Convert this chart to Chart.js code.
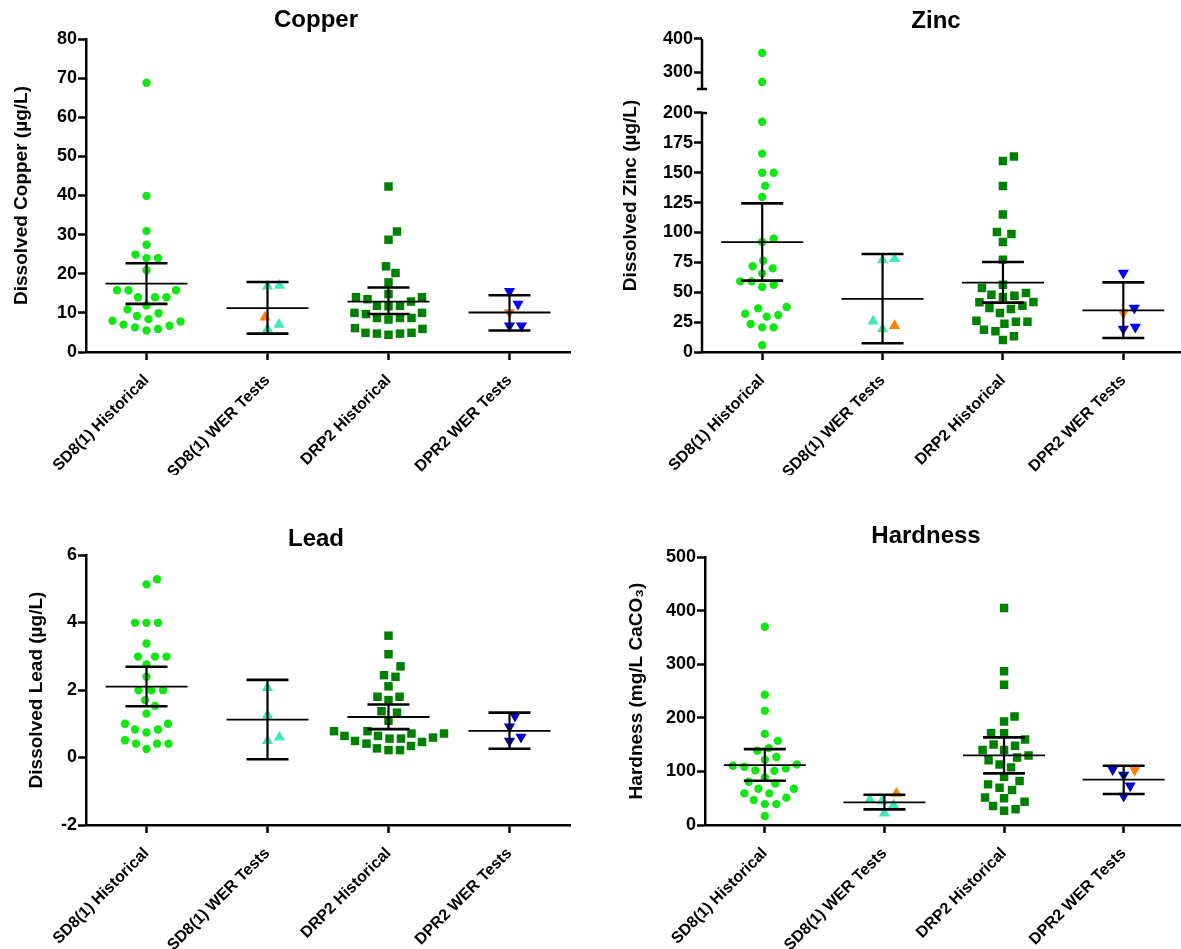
<!DOCTYPE html>
<html>
<head>
<meta charset="utf-8">
<script src="https://cdn.jsdelivr.net/npm/chart.js@4.4.1/dist/chart.umd.min.js"></script>
<style>
html, body { margin: 0; padding: 0; background: #fff; overflow: hidden; width: 1181px; height: 949px; position: relative; }
canvas { position: absolute; }
</style>
</head>
<body>
<canvas id="cu" width="590" height="475" style="left:0;top:0"></canvas>
<canvas id="zn" width="600" height="475" style="left:590px;top:0"></canvas>
<canvas id="pb" width="590" height="474" style="left:0;top:475px"></canvas>
<canvas id="hd" width="600" height="474" style="left:590px;top:475px"></canvas>
<script>
const groups = ['SD8(1) Historical', 'SD8(1) WER Tests', 'DRP2 Historical', 'DPR2 WER Tests'];

// Copper (ug/L)
const cuHist = [68.8, 39.9, 30.9, 27.4, 24.9, 24.0, 24.0, 20.9, 15.8, 15.8, 15.8, 14.0, 14.0, 14.0, 11.9, 10.9, 9.9, 9.2, 8.4, 8.0, 7.8, 7.0, 6.7, 6.3, 5.9, 5.5];
const cuWer = [17.0, 16.8, 8.9, 7.0, 5.9];
const cuWerFlag = [0, 0, 1, 0, 0];
const cuDrp = [42.3, 30.8, 28.7, 21.9, 20.2, 17.8, 14.8, 14.0, 14.0, 13.5, 12.9, 11.8, 11.8, 11.7, 10.0, 10.0, 9.7, 8.7, 8.7, 8.7, 8.3, 6.1, 5.9, 4.9, 4.9, 4.7, 4.7, 4.4];
const cuDpr = [15.5, 12.3, 10.1, 6.7, 6.7];
const cuDprFlag = [0, 0, 1, 0, 0];
const cuMean = [17.5, 11.2, 12.9, 10.1];
const cuLo = [12.3, 4.7, 9.7, 5.5];
const cuHi = [22.7, 17.9, 16.5, 14.5];
const cuTicks = [0, 10, 20, 30, 40, 50, 60, 70, 80];

// Zinc (ug/L)
const znHist = [358, 271, 192.7, 166, 150, 150, 139, 129.7, 94.8, 92, 76.4, 71.7, 70, 65.8, 59.1, 59.1, 56.3, 54.4, 37.7, 36.5, 32, 31, 29.6, 23.4, 20.6, 20.6, 5.6];
const znWer = [78, 77, 25.7, 22, 19.2];
const znWerFlag = [0, 0, 0, 1, 0];
const znDrp = [163.5, 159.8, 138.9, 115, 100.4, 98.7, 92, 77.3, 56.3, 53.6, 49.4, 48, 47.1, 46, 41.8, 41.6, 38.8, 36.8, 36, 32.6, 26.2, 25.4, 25.4, 23.7, 18.7, 17.3, 13.1, 10];
const znDpr = [66.1, 36.8, 32.6, 20.9, 19.2];
const znDprFlag = [0, 0, 1, 0, 0];
const znMean = [92, 44.4, 58, 34.9];
const znLo = [59.7, 7.3, 41.3, 11.7];
const znHi = [124.4, 82, 75.3, 58.3];
const znTicks = [0, 25, 50, 75, 100, 125, 150, 175, 200, 300, 400];

// Lead (ug/L)
const pbHist = [5.28, 5.13, 3.99, 3.99, 3.99, 3.38, 2.99, 2.99, 2.99, 2.76, 2.39, 1.99, 1.99, 1.99, 1.7, 1.53, 1.3, 1.0, 1.0, 0.83, 0.83, 0.74, 0.51, 0.41, 0.41, 0.41, 0.25];
const pbWer = [2.07, 1.25, 0.6, 0.5];
const pbWerFlag = [0, 0, 0, 0];
const pbDrp = [3.61, 3.06, 2.70, 2.44, 2.39, 2.11, 1.80, 1.80, 1.70, 1.37, 1.33, 1.09, 0.78, 0.78, 0.71, 0.71, 0.64, 0.64, 0.59, 0.56, 0.56, 0.49, 0.46, 0.41, 0.34, 0.27, 0.22, 0.22];
const pbDpr = [1.23, 0.91, 0.61, 0.49];
const pbDprFlag = [0, 0, 0, 0];
const pbMean = [2.10, 1.125, 1.20, 0.79];
const pbLo = [1.52, -0.05, 0.84, 0.26];
const pbHi = [2.69, 2.30, 1.57, 1.33];
const pbTicks = [-2, 0, 2, 4, 6];

// Hardness (mg/L CaCO3)
const hdHist = [370, 243, 213, 170, 157, 143.5, 138.5, 127, 122, 113, 110.6, 108.7, 105.6, 102, 101, 88.8, 80.7, 77.6, 67.7, 67.7, 59, 59, 51, 46.6, 39, 39, 16.8];
const hdWer = [59, 47.8, 44.7, 37.3, 21.7];
const hdWerFlag = [1, 0, 0, 0, 0];
const hdDrp = [405, 287, 261.5, 202.5, 193, 171, 171, 159.6, 150, 147.8, 139.8, 139.8, 129.8, 126, 121, 113, 107.5, 90, 82, 75.8, 69.6, 65.2, 51.5, 49.7, 43.5, 35.4, 29.2, 26.7];
const hdDpr = [103.7, 102.5, 93.2, 73.3, 54];
const hdDprFlag = [0, 1, 0, 0, 0];
const hdMean = [111.8, 42.2, 129.8, 84.5];
const hdLo = [82.6, 29.2, 96.3, 57.8];
const hdHi = [141.6, 56.5, 163.4, 110.6];
const hdTicks = [0, 100, 200, 300, 400, 500];

const GREEN = '#10E610';
const AQUA = '#40E8B8';
const DKGREEN = '#008000';
const ORANGE = '#FF8000';

Chart.defaults.font.family = "'Liberation Sans', Arial, sans-serif";
Chart.defaults.color = '#000';

// y scale with a gap between two linear segments (zinc panel)
class BrokenScale extends Chart.LinearScale {
    getPixelForValue(value) {
        const b = this.options.brk;
        const h = this.bottom - this.top;
        const lowH = h * b.lowFrac, gapH = h * b.gapFrac;
        if (value <= b.low) return this.bottom - (value - this.min) / (b.low - this.min) * lowH;
        if (value >= b.high) return this.bottom - lowH - gapH - (value - b.high) / (this.max - b.high) * (h - lowH - gapH);
        return this.bottom - lowH - (value - b.low) / (b.high - b.low) * gapH;
    }
    getValueForPixel(pixel) {
        const b = this.options.brk;
        const h = this.bottom - this.top;
        const lowH = h * b.lowFrac, gapH = h * b.gapFrac;
        const d = this.bottom - pixel;
        if (d <= lowH) return this.min + d / lowH * (b.low - this.min);
        if (d >= lowH + gapH) return b.high + (d - lowH - gapH) / (h - lowH - gapH) * (this.max - b.high);
        return b.low + (d - lowH) / gapH * (b.high - b.low);
    }
}
BrokenScale.id = 'broken';
BrokenScale.defaults = {};
Chart.register(BrokenScale);

function line(ctx, x1, y1, x2, y2, w) {
    ctx.lineWidth = w;
    ctx.beginPath();
    ctx.moveTo(x1, y1);
    ctx.lineTo(x2, y2);
    ctx.stroke();
}

const errorBars = {
    id: 'errorBars',
    afterDatasetsDraw(chart, args, o) {
        const {ctx, scales: {x, y}} = chart;
        ctx.save();
        ctx.strokeStyle = '#000';
        o.mean.forEach((m, i) => {
            const cx = x.getPixelForValue(i);
            const pm = y.getPixelForValue(m);
            const pl = y.getPixelForValue(o.lo[i]);
            const ph = y.getPixelForValue(o.hi[i]);
            line(ctx, cx, pl, cx, ph, 2.2);
            line(ctx, cx - 21, pl, cx + 21, pl, 2.6);
            line(ctx, cx - 21, ph, cx + 21, ph, 2.6);
            line(ctx, cx - 41, pm, cx + 41, pm, 1.8);
        });
        ctx.restore();
    }
};

const panelTitle = {
    id: 'panelTitle',
    afterDraw(chart, args, o) {
        const ctx = chart.ctx;
        ctx.save();
        ctx.font = "bold 24px 'Liberation Sans', Arial, sans-serif";
        ctx.fillStyle = '#000';
        ctx.textAlign = 'center';
        ctx.textBaseline = 'middle';
        ctx.fillText(o.text, o.x, o.y);
        ctx.restore();
    }
};

// split axis line for the zinc panel
const brokenAxis = {
    id: 'brokenAxis',
    afterDraw(chart) {
        const y = chart.scales.y;
        const b = y.options.brk;
        if (!b) return;
        const ctx = chart.ctx;
        const ax = chart.chartArea.left;
        ctx.save();
        ctx.strokeStyle = '#000';
        line(ctx, ax, y.getPixelForValue(y.min) + 1, ax, y.getPixelForValue(b.low), 2.5);
        line(ctx, ax, y.getPixelForValue(b.high), ax, y.getPixelForValue(y.max), 2.5);
        line(ctx, ax - 1, y.getPixelForValue(b.low), ax + 5, y.getPixelForValue(b.low), 2.5);
        line(ctx, ax - 5, y.getPixelForValue(b.high), ax + 5, y.getPixelForValue(b.high), 2.5);
        ctx.restore();
    }
};

const styles = [
    {pointStyle: 'circle', color: GREEN, radius: 4.2, rotation: 0, gap: 11.5},
    {pointStyle: 'triangle', color: AQUA, radius: 6.5, rotation: 0, gap: 12},
    {pointStyle: 'rect', color: DKGREEN, radius: 6, rotation: 0, gap: 11.5},
    {pointStyle: 'triangle', color: '#0000FF', radius: 6.5, rotation: 180, gap: 12},
];

// spread points sideways so they do not overlap (layout only, values stay as read)
function swarm(chart) {
    const xs = chart.scales.x, ys = chart.scales.y;
    const unit = xs.getPixelForValue(1) - xs.getPixelForValue(0);
    chart.data.datasets.forEach((ds, g) => {
        const vals = ds.data.map(p => p.y);
        const py = vals.map(v => ys.getPixelForValue(v));
        const d = styles[g].gap;
        const order = py.map((_, k) => k).sort((a, b) => py[b] - py[a]);
        const placed = [];
        const off = [];
        order.forEach(k => {
            for (let s = 0; s < 600; s++) {
                const c = s === 0 ? 0 : (s % 2 ? 1 : -1) * Math.ceil(s / 2) * 0.5;
                if (placed.every(p => (p.x - c) ** 2 + (p.y - py[k]) ** 2 >= d * d)) {
                    placed.push({x: c, y: py[k]});
                    off[k] = c;
                    break;
                }
            }
        });
        ds.data = vals.map((v, k) => ({x: g + off[k] / unit, y: v}));
    });
    chart.update('none');
}

function makePanel(id, p) {
    const canvas = document.getElementById(id);
    const W = canvas.width, H = canvas.height;
    const datasets = p.series.map((vals, g) => {
        const st = styles[g];
        const flags = p.flags[g];
        return {
            data: vals.map(v => ({x: g, y: v})),
            pointStyle: st.pointStyle,
            pointRadius: st.radius,
            pointRotation: st.rotation,
            pointBorderWidth: 0,
            backgroundColor: vals.map((_, k) => flags && flags[k] ? ORANGE : (g === 3 ? p.blue : st.color)),
            borderColor: 'rgba(0,0,0,0)',
            showLine: false,
        };
    });
    const chart = new Chart(canvas, {
        type: 'scatter',
        data: {datasets: datasets},
        options: {
            responsive: false,
            animation: false,
            events: [],
            layout: {padding: {left: p.padLeft, top: p.area.top, right: W - p.area.right, bottom: 0}},
            plugins: {
                legend: {display: false},
                tooltip: {enabled: false},
                errorBars: {mean: p.mean, lo: p.lo, hi: p.hi},
                panelTitle: {text: p.title, x: p.titleX, y: p.titleY},
            },
            scales: {
                x: {
                    type: 'linear',
                    min: -0.5,
                    max: 3.5,
                    afterBuildTicks: s => { s.ticks = groups.map((_, i) => ({value: i})); },
                    afterFit: s => { s.height = H - p.area.bottom; },
                    ticks: {
                        callback: (v, i) => groups[i],
                        autoSkip: false,
                        minRotation: 45,
                        maxRotation: 45,
                        padding: 11,
                        color: '#000',
                        font: {size: 16, weight: 'bold'},
                    },
                    grid: {drawOnChartArea: false, tickLength: 8, tickWidth: 2.5, tickColor: '#000'},
                    border: {color: '#000', width: 2.5},
                },
                y: {
                    type: p.brk ? 'broken' : 'linear',
                    min: p.ticks[0],
                    max: p.ticks[p.ticks.length - 1],
                    brk: p.brk,
                    afterBuildTicks: s => { s.ticks = p.ticks.map(v => ({value: v})); },
                    afterFit: s => { s.width = p.area.left - p.padLeft; },
                    ticks: {color: '#000', padding: 1, font: {size: 18, weight: 'bold'}},
                    grid: {drawOnChartArea: false, tickLength: 8, tickWidth: 2.5, tickColor: '#000'},
                    border: {display: !p.brk, color: '#000', width: 2.5},
                    title: {display: true, text: p.yLabel, color: '#000', padding: 0, font: {size: 19, weight: 'bold'}},
                },
            },
        },
        plugins: [errorBars, panelTitle, brokenAxis],
    });
    swarm(chart);
    return chart;
}

makePanel('cu', {
    title: 'Copper', titleX: 316, titleY: 20,
    yLabel: 'Dissolved Copper (µg/L)',
    series: [cuHist, cuWer, cuDrp, cuDpr],
    flags: [null, cuWerFlag, null, cuDprFlag],
    mean: cuMean, lo: cuLo, hi: cuHi,
    ticks: cuTicks,
    blue: '#0000FF',
    padLeft: 10, area: {left: 86, top: 39, right: 570, bottom: 352},
});

makePanel('zn', {
    title: 'Zinc', titleX: 346, titleY: 21,
    yLabel: 'Dissolved Zinc (µg/L)',
    series: [znHist, znWer, znDrp, znDpr],
    flags: [null, znWerFlag, null, znDprFlag],
    mean: znMean, lo: znLo, hi: znHi,
    ticks: znTicks,
    brk: {low: 200, high: 250, lowFrac: 0.7636, gapFrac: 0.0767},
    blue: '#0000FF',
    padLeft: 29, area: {left: 112, top: 39, right: 595, bottom: 352},
});

makePanel('pb', {
    title: 'Lead', titleX: 316, titleY: 64,
    yLabel: 'Dissolved Lead (µg/L)',
    series: [pbHist, pbWer, pbDrp, pbDpr],
    flags: [null, pbWerFlag, null, pbDprFlag],
    mean: pbMean, lo: pbLo, hi: pbHi,
    ticks: pbTicks,
    blue: '#0000C8',
    padLeft: 25, area: {left: 86, top: 80, right: 570, bottom: 350},
});

makePanel('hd', {
    title: 'Hardness', titleX: 336, titleY: 61,
    yLabel: 'Hardness (mg/L CaCO₃)',
    series: [hdHist, hdWer, hdDrp, hdDpr],
    flags: [null, hdWerFlag, null, hdDprFlag],
    mean: hdMean, lo: hdLo, hi: hdHi,
    ticks: hdTicks,
    blue: '#0000C8',
    padLeft: 35, area: {left: 115, top: 82, right: 596, bottom: 350},
});
</script>
</body>
</html>
